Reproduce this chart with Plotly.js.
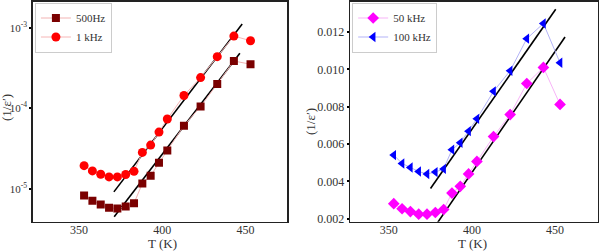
<!DOCTYPE html>
<html><head><meta charset="utf-8">
<script src="https://cdn.plot.ly/plotly-3.0.1.min.js"></script>
<style>html,body{margin:0;padding:0;background:#fff}#c{width:602px;height:251px}</style>
</head><body><div id="c"></div>
<script>
const T = [353,358,363,368,373,378,383,388,393,398,403,413,423,433,443,453];
const inv500Hz = [8.2e-6,7.06e-6,6.35e-6,5.78e-6,5.66e-6,6.0e-6,6.6e-6,1.156e-5,1.45e-5,2.1e-5,2.99e-5,6.05e-5,1.05e-4,2.0e-4,3.86e-4,3.52e-4];
const inv1kHz = [1.93e-5,1.66e-5,1.51e-5,1.40e-5,1.40e-5,1.50e-5,1.64e-5,2.82e-5,3.48e-5,5.05e-5,7.33e-5,1.44e-4,2.40e-4,4.37e-4,7.88e-4,6.90e-4];
const inv50kHz = [0.00281,0.00254,0.00239,0.00225,0.00225,0.00234,0.0025,0.00338,0.00374,0.0044,0.00507,0.0064,0.00758,0.00924,0.0101,0.00812];
const inv100kHz = [0.00541,0.00496,0.00475,0.00453,0.0044,0.0045,0.00467,0.0057,0.00607,0.00669,0.00735,0.00882,0.00992,0.01164,0.01245,0.01035];
// linear fit lines: endpoints
const fit1kHzT = [370.9,448.0], fit1kHzY = [9.12e-6,1.11e-3];
const fit500HzT = [371.1,446.6], fit500HzY = [4.47e-6,4.82e-4];
const fit100kHzT = [375.1,450.4], fit100kHzY = [0.00362,0.01321];
const fit50kHzT = [379.5,456.0], fit50kHzY = [0.00182,0.01173];
const xTicks = [350,400,450];
const logTickVals = [1e-5,1e-4,1e-3];
const logTickText = ['10<sup>-5</sup>','10<sup>-4</sup>','10<sup>-3</sup>'];
const linTickVals = [0.002,0.004,0.006,0.008,0.010,0.012];
const linTickText = ['0.002','0.004','0.006','0.008','0.010','0.012'];
const xTitle = 'T (K)';
const yTitle = '(1/ε′)';

const F = 'Liberation Serif, Times New Roman, serif';
function series(x,y,name,color,lineColor,symbol,size,xa,ya,leg){
  return {x:x,y:y,name:name,mode:'lines+markers',xaxis:xa,yaxis:ya,legend:leg,
    line:{color:lineColor,width:1},marker:{color:color,symbol:symbol,size:size}};
}
function fit(x,y,xa,ya){
  return {x:x,y:y,mode:'lines',xaxis:xa,yaxis:ya,showlegend:false,line:{color:'#000',width:1.6},hoverinfo:'skip'};
}
const data = [
  fit(fit1kHzT,fit1kHzY,'x','y'),
  fit(fit500HzT,fit500HzY,'x','y'),
  series(T,inv500Hz,'500Hz','#7a0000','#f2b3b3','square',8,'x','y','legend'),
  series(T,inv1kHz,'1 kHz','#ff0000','#f6b6b6','circle',9,'x','y','legend'),
  fit(fit100kHzT,fit100kHzY,'x2','y2'),
  fit(fit50kHzT,fit50kHzY,'x2','y2'),
  series(T,inv50kHz,'50 kHz','#ff00ff','#f7b3f7','diamond',9,'x2','y2','legend2'),
  series(T,inv100kHz,'100 kHz','#0000ff','#b3b3f7','triangle-left',9,'x2','y2','legend2')
];
const axBase = {showline:true,mirror:true,linecolor:'#222',linewidth:1.6,showgrid:false,zeroline:false,
  tickcolor:'#000',tickfont:{family:F,size:12,color:'#333'},automargin:false};
const xBase = Object.assign({},axBase,{ticks:'',ticklabelstandoff:-4});
const yBase = Object.assign({},axBase,{ticks:'outside',ticklen:2,tickwidth:2});
const tf = {family:F,size:13,color:'#333'};
const layout = {
  width:602,height:251,margin:{l:0,r:0,t:0,b:0},paper_bgcolor:'#fff',plot_bgcolor:'#fff',
  font:{family:F,color:'#333'},
  xaxis:Object.assign({},xBase,{domain:[0.0548,0.4767],range:[322.3,474.9],tickvals:xTicks,anchor:'y'}),
  yaxis:Object.assign({},yBase,{domain:[0.117,0.992],type:'log',range:[-5.41,-2.68],tickvals:logTickVals,ticktext:logTickText,anchor:'x',
    tickfont:{family:F,size:11,color:'#333'}}),
  xaxis2:Object.assign({},xBase,{domain:[0.582,0.993],range:[326.9,475.7],tickvals:xTicks,anchor:'y2'}),
  yaxis2:Object.assign({},yBase,{domain:[0.117,0.992],range:[0.00185,0.0136],tickvals:linTickVals,ticktext:linTickText,anchor:'x2'}),
  annotations:[
    {text:xTitle,xref:'paper',yref:'paper',x:162/602,y:1-243/251,xanchor:'center',yanchor:'middle',showarrow:false,font:tf},
    {text:xTitle,xref:'paper',yref:'paper',x:472/602,y:1-243/251,xanchor:'center',yanchor:'middle',showarrow:false,font:tf},
    {text:yTitle,xref:'paper',yref:'paper',x:6/602,y:1-108/251,xanchor:'center',yanchor:'middle',textangle:-90,showarrow:false,font:tf},
    {text:yTitle,xref:'paper',yref:'paper',x:310/602,y:1-122/251,xanchor:'center',yanchor:'middle',textangle:-90,showarrow:false,font:tf}
  ],
  legend:{x:0.058,y:0.99,xanchor:'left',yanchor:'top',bgcolor:'#fff',bordercolor:'#ccc',borderwidth:1,
    font:{family:F,size:11,color:'#333'},tracegroupgap:0,itemwidth:30},
  legend2:{x:0.585,y:0.99,xanchor:'left',yanchor:'top',bgcolor:'#fff',bordercolor:'#ccc',borderwidth:1,
    font:{family:F,size:11,color:'#333'},tracegroupgap:0,itemwidth:30},
  showlegend:true
};
Plotly.newPlot('c',data,layout,{staticPlot:true,displayModeBar:false});
</script></body></html>
